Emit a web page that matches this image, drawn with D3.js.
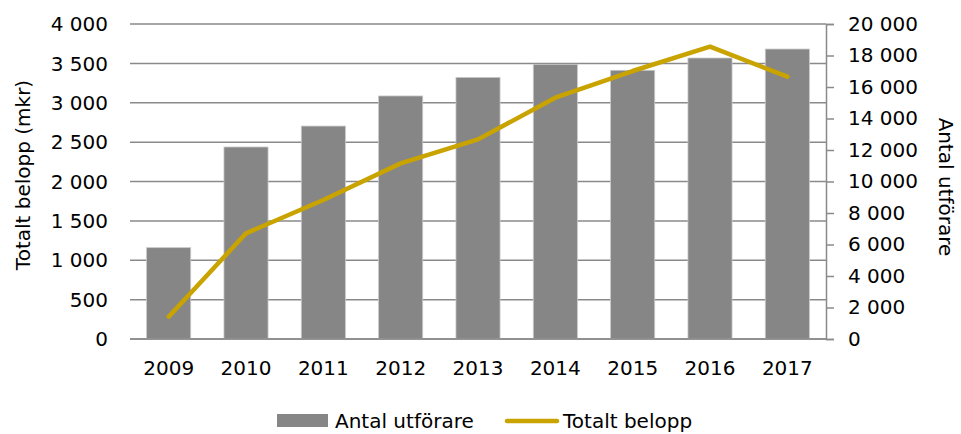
<!DOCTYPE html>
<html><head><meta charset="utf-8">
<script src="https://cdn.jsdelivr.net/npm/d3@7"></script>
<style>body{margin:0;background:#fff}svg text{font-family:"DejaVu Sans",Verdana,sans-serif;fill:#000}</style>
</head><body><svg id="c" width="961" height="434"></svg>
<script>
const years = ["2009","2010","2011","2012","2013","2014","2015","2016","2017"];
const antalUtforare = [5800, 12190, 13520, 15430, 16610, 17440, 17060, 17840, 18410];
const totaltBelopp = [283, 1342, 1765, 2230, 2535, 3064, 3403, 3712, 3331];
const leftTicks = [0,500,1000,1500,2000,2500,3000,3500,4000];
const rightTicks = [0,2000,4000,6000,8000,10000,12000,14000,16000,18000,20000];
const seriesNames = ["Antal utförare","Totalt belopp"];
const axisTitles = ["Totalt belopp (mkr)","Antal utförare"];

const barColor="#868686", lineColor="#C9A300", gridColor="#8a8a8a";
const svg=d3.select("#c");
const m={l:130,r:826,t:24,b:339};
const fs=20;
const fmt=v=>d3.format(",")(v).replace(/,/g," ");

const x=d3.scaleBand().domain(years).range([m.l,m.r]).paddingInner(0.43).paddingOuter(0.215);
const yL=d3.scaleLinear().domain([0,4000]).range([m.b,m.t]);
const yR=d3.scaleLinear().domain([0,20000]).range([m.b,m.t]);

// gridlines
svg.append("g").selectAll("line").data(leftTicks).join("line")
 .attr("x1",m.l).attr("x2",m.r).attr("y1",d=>yL(d)).attr("y2",d=>yL(d))
 .attr("stroke",gridColor).attr("stroke-width",1.5);

// left labels
svg.append("g").selectAll("text").data(leftTicks).join("text")
 .attr("x",108).attr("y",d=>yL(d)).attr("dy","0.36em").attr("text-anchor","end")
 .attr("font-size",fs).text(fmt);

// bars
svg.append("g").selectAll("rect").data(years).join("rect")
 .attr("x",d=>x(d)).attr("width",x.bandwidth())
 .attr("y",(d,i)=>yR(antalUtforare[i])).attr("height",(d,i)=>m.b-yR(antalUtforare[i]))
 .attr("fill",barColor).attr("stroke","#c8c8c8").attr("stroke-width",0.8);

// bottom line redraw
svg.append("line").attr("x1",m.l).attr("x2",m.r).attr("y1",m.b).attr("y2",m.b).attr("stroke",gridColor).attr("stroke-width",1.5);

// right axis
const gR=svg.append("g").attr("transform",`translate(${m.r},0)`)
 .call(d3.axisRight(yR).tickValues(rightTicks).tickSize(8).tickPadding(14).tickFormat(fmt));
gR.select(".domain").attr("stroke",gridColor).attr("stroke-width",1.5);
gR.selectAll(".tick line").attr("stroke",gridColor).attr("stroke-width",1.5);
gR.selectAll("text").attr("font-size",fs).attr("font-family",'"DejaVu Sans",Verdana,sans-serif').attr("fill","#000");

// x labels
svg.append("g").selectAll("text").data(years).join("text")
 .attr("x",d=>x(d)+x.bandwidth()/2).attr("y",368).attr("dy","0.36em").attr("text-anchor","middle")
 .attr("font-size",fs).text(d=>d);

// line
const line=d3.line().x((d,i)=>x(years[i])+x.bandwidth()/2).y(d=>yL(d));
svg.append("path").datum(totaltBelopp).attr("d",line).attr("fill","none")
 .attr("stroke",lineColor).attr("stroke-width",4.5).attr("stroke-linecap","round").attr("stroke-linejoin","round");

// axis titles
svg.append("text").attr("transform","translate(23,175) rotate(-90)").attr("text-anchor","middle").attr("dy","0.36em")
 .attr("font-size",fs).text(axisTitles[0]);
svg.append("text").attr("transform","translate(946,187) rotate(90)").attr("text-anchor","middle").attr("dy","0.36em")
 .attr("font-size",fs).text(axisTitles[1]);

// legend
const lg=svg.append("g");
lg.append("rect").attr("x",277).attr("y",414).attr("width",51).attr("height",13).attr("fill",barColor);
lg.append("text").attr("x",335).attr("y",421).attr("dy","0.36em").attr("font-size",fs).text(seriesNames[0]);
lg.append("line").attr("x1",507).attr("x2",557).attr("y1",421).attr("y2",421).attr("stroke",lineColor).attr("stroke-width",4.5).attr("stroke-linecap","round");
lg.append("text").attr("x",563).attr("y",421).attr("dy","0.36em").attr("font-size",fs).text(seriesNames[1]);
</script></body></html>
